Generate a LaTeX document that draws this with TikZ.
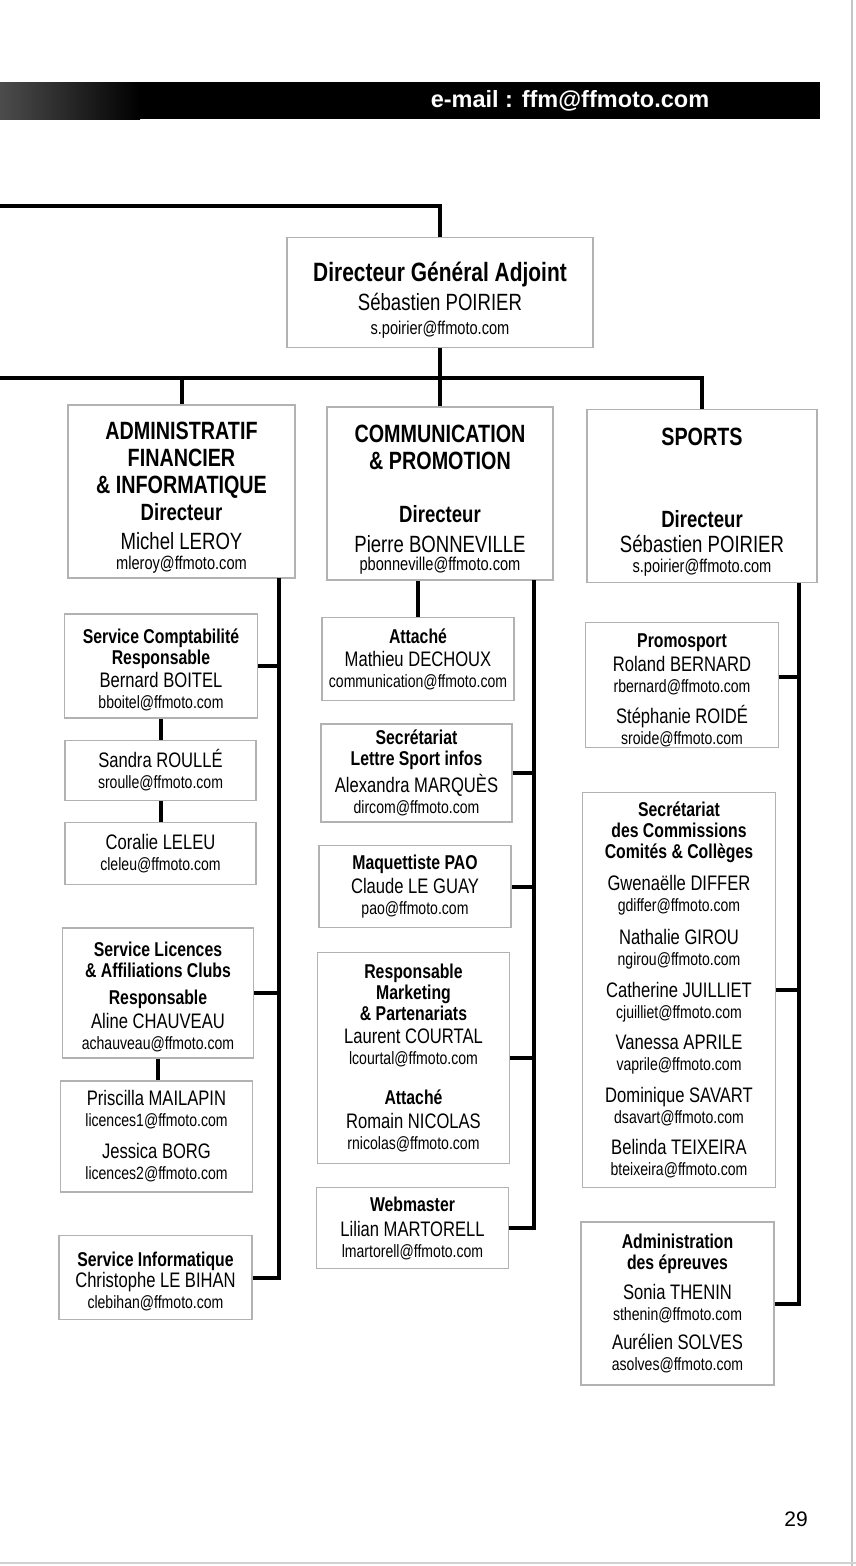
\documentclass[tikz,border=0pt]{standalone}
\usepackage{fontspec}
\setmainfont{Liberation Sans}[FakeStretch=0.79]
\newfontfamily\plainsans{Liberation Sans}
\newcommand\dpt[1]{{\bfseries\fontsize{25}{27}\selectfont #1}}
\newcommand\drc[1]{{\bfseries\fontsize{23.5}{27}\selectfont #1}}
\newcommand\bss[1]{{\fontsize{23.5}{27}\selectfont #1}}
\newcommand\bml[1]{{\fontsize{18.5}{27}\selectfont #1}}
\newcommand\ttl[1]{{\bfseries\fontsize{20}{21}\selectfont #1}}
\newcommand\who[1]{{\fontsize{21}{21}\selectfont #1}}
\newcommand\eml[1]{{\fontsize{17.8}{21}\selectfont #1}}
\newcommand\lift[1]{\rule{0pt}{#1pt}}

\begin{document}
\begin{tikzpicture}[x=1pt, y=-1pt,
  wire/.style={line width=4pt},
  box/.style={draw=gray!60, line width=1.8pt, fill=white, align=center, inner sep=0pt, font=\fontsize{18}{21}\selectfont},
  dbox/.style={box, font=\fontsize{20}{27}\selectfont},
  sz/.style 2 args={minimum width=#1pt, minimum height=#2pt}
]
\useasboundingbox (0,0) rectangle (856,1566);

\fill[left color=black!70, right color=black] (0,82) rectangle (140,119);
\fill (140,82) rectangle (820,119);
\node[font=\plainsans\bfseries\fontsize{23.5}{24}\selectfont, text=white] (head) at (570,101) {e-mail : ffm@ffmoto.com};
\draw[gray!45, line width=1.5pt] (852,0) -- (852,1566);
\draw[gray!35, line width=1.5pt] (0,1563) -- (856,1563);

\node[box, sz={306}{110}, font=\fontsize{20}{29}\selectfont] (dga) at (440,292.5)
  {\lift{34}{\bfseries\fontsize{26.5}{29}\selectfont Directeur Général Adjoint}\\ \bss{Sébastien POIRIER}\\[-5pt] \bml{s.poirier@ffmoto.com}};

\node[dbox, sz={227}{173}] (adm) at (181.5,491.5)
  {\lift{29}\dpt{ADMINISTRATIF}\\ \dpt{FINANCIER}\\ \dpt{\& INFORMATIQUE}\\ \drc{Directeur}\\[2pt] \bss{Michel LEROY}\\[-7pt] \bml{mleroy@ffmoto.com}};
\node[dbox, sz={226}{173}] (com) at (440,493.5)
  {\lift{29}\dpt{COMMUNICATION}\\ \dpt{\& PROMOTION}\\[26pt] \drc{Directeur}\\[3pt] \bss{Pierre BONNEVILLE}\\[-9pt] \bml{pbonneville@ffmoto.com}};
\node[dbox, sz={230}{173}] (spo) at (702,496)
  {\lift{29}\dpt{SPORTS}\\[55pt] \drc{Directeur}\\[-2pt] \bss{Sébastien POIRIER}\\[-7pt] \bml{s.poirier@ffmoto.com}};

\node[box, sz={193}{104}] (cpt) at (161,666)
  {\lift{23}\ttl{Service Comptabilité}\\ \ttl{Responsable}\\[2pt] \who{Bernard BOITEL}\\ \eml{bboitel@ffmoto.com}};
\node[box, sz={191}{60}] (srl) at (160.5,770.5)
  {\who{Sandra ROULLÉ}\\ \eml{sroulle@ffmoto.com}};
\node[box, sz={191}{62}] (cll) at (160.5,853.5)
  {\who{Coralie LELEU}\\ \eml{cleleu@ffmoto.com}};
\node[box, sz={191}{130}] (lic) at (158,993)
  {\lift{23}\ttl{Service Licences}\\ \ttl{\& Affiliations Clubs}\\[6pt] \ttl{Responsable}\\[3pt] \who{Aline CHAUVEAU}\\ \eml{achauveau@ffmoto.com}};
\node[box, sz={192}{111}] (mlp) at (156.5,1136.5)
  {\who{Priscilla MAILAPIN}\\ \eml{licences1@ffmoto.com}\\[11pt] \who{Jessica BORG}\\ \eml{licences2@ffmoto.com}};
\node[box, sz={193}{84}] (inf) at (155.5,1277.5)
  {\lift{23}\ttl{Service Informatique}\\ \who{Christophe LE BIHAN}\\ \eml{clebihan@ffmoto.com}};

\node[box, sz={192}{83}] (att) at (418,659)
  {\ttl{Attaché}\\[2pt] \who{Mathieu DECHOUX}\\ \eml{communication@ffmoto.com}};
\node[box, sz={191}{98}] (lsi) at (416.5,773)
  {\ttl{Secrétariat}\\ \ttl{Lettre Sport infos}\\[3pt] \who{Alexandra MARQUÈS}\\ \eml{dircom@ffmoto.com}};
\node[box, sz={192}{82}] (pao) at (415,886.5)
  {\ttl{Maquettiste PAO}\\[3pt] \who{Claude LE GUAY}\\ \eml{pao@ffmoto.com}};
\node[box, sz={192}{211}] (mkt) at (413.5,1058)
  {\ttl{Responsable}\\ \ttl{Marketing}\\ \ttl{\& Partenariats}\\[2pt] \who{Laurent COURTAL}\\ \eml{lcourtal@ffmoto.com}\\[19pt]
   \ttl{Attaché}\\[3pt] \who{Romain NICOLAS}\\ \eml{rnicolas@ffmoto.com}};
\node[box, sz={192}{81}] (web) at (412.5,1228)
  {\ttl{Webmaster}\\[4pt] \who{Lilian MARTORELL}\\ \eml{lmartorell@ffmoto.com}};

\node[box, sz={193}{125}] (pro) at (682,685)
  {\lift{25}\ttl{Promosport}\\[3pt] \who{Roland BERNARD}\\ \eml{rbernard@ffmoto.com}\\[10pt] \who{Stéphanie ROIDÉ}\\ \eml{sroide@ffmoto.com}};
\node[box, sz={193}{395}] (ccc) at (679,990)
  {\ttl{Secrétariat}\\ \ttl{des Commissions}\\ \ttl{Comités \& Collèges}\\[11pt]
   \who{Gwenaëlle DIFFER}\\ \eml{gdiffer@ffmoto.com}\\[12pt]
   \who{Nathalie GIROU}\\ \eml{ngirou@ffmoto.com}\\[11pt]
   \who{Catherine JUILLIET}\\ \eml{cjuilliet@ffmoto.com}\\[10pt]
   \who{Vanessa APRILE}\\ \eml{vaprile@ffmoto.com}\\[11pt]
   \who{Dominique SAVART}\\ \eml{dsavart@ffmoto.com}\\[10pt]
   \who{Belinda TEIXEIRA}\\ \eml{bteixeira@ffmoto.com}};
\node[box, sz={193}{163}] (epr) at (677.5,1303.5)
  {\ttl{Administration}\\ \ttl{des épreuves}\\[9pt] \who{Sonia THENIN}\\ \eml{sthenin@ffmoto.com}\\[8pt] \who{Aurélien SOLVES}\\ \eml{asolves@ffmoto.com}};

\node[font=\plainsans\fontsize{21}{21}\selectfont] (pg) at (796,1519) {29};

\coordinate (top) at (0,206);
\coordinate (bus) at (0,378);
\draw[wire] (top) -| (dga.north);
\draw[wire] (bus) -| (spo.north);
\draw[wire] (dga.south) -- (com.north);
\draw[wire] (adm.north) -- (adm.north |- bus);

\coordinate (admR) at (279,578);
\draw[wire] (admR) |- (inf.east);
\draw[wire] (cpt.east) -- (cpt.east -| admR);
\draw[wire] (lic.east) -- (lic.east -| admR);
\draw[wire] (cpt.south) -- (cpt.south |- srl.north);
\draw[wire] (srl.south) -- (srl.south |- cll.north);
\draw[wire] (lic.south) -- (lic.south |- mlp.north);

\coordinate (comR) at (534,580);
\draw[wire] (comR) |- (web.east);
\draw[wire] (com.south -| att.north) -- (att.north);
\draw[wire] (lsi.east) -- (lsi.east -| comR);
\draw[wire] (pao.east) -- (pao.east -| comR);
\draw[wire] (mkt.east) -- (mkt.east -| comR);

\coordinate (spoR) at (799,583);
\draw[wire] (spoR) |- (epr.east);
\draw[wire] ([yshift=8pt]pro.east) -- ([yshift=8pt]pro.east -| spoR);
\draw[wire] (ccc.east) -- (ccc.east -| spoR);
\end{tikzpicture}
\end{document}
